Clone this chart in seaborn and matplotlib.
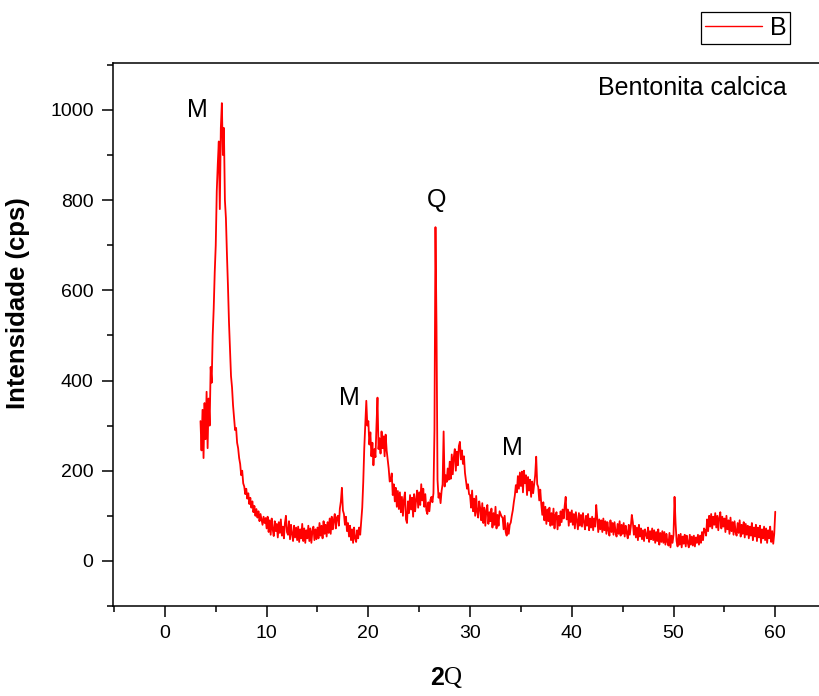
import numpy as np
import pandas as pd
import matplotlib
matplotlib.use("Agg")
import matplotlib.pyplot as plt
from matplotlib.ticker import MultipleLocator
import seaborn as sns

seg_starts = [3.5, 10.0, 20.0, 30.0, 40.0, 50.0]

i_a = [310, 245, 335, 228, 350,
       270, 375, 250, 360, 300, 430, 395, 500, 560, 640,
       700, 820, 880, 930, 780, 960, 1015, 900, 960, 800,
       760, 680, 610, 530, 470, 410, 385, 345, 318, 290,
       295, 262, 250, 228, 215, 190, 200, 172, 165, 148,
       160, 138, 150, 126, 140, 118, 132, 108, 122, 100,
       115, 96, 110, 88, 104, 92, 80, 98, 84, 95]
i_b = [72, 98, 64, 90, 58, 94, 70, 55, 88, 66,
       82, 52, 86, 62, 92, 56, 76, 50, 84, 100,
       64, 58, 88, 48, 80, 60, 44, 78, 52, 74,
       46, 76, 42, 70, 50, 82, 44, 72, 40, 68,
       50, 78, 44, 72, 40, 66, 76, 46, 70, 48,
       74, 50, 84, 56, 78, 50, 88, 60, 80, 54,
       86, 62, 94, 60, 98, 70, 90, 104, 72, 96,
       100, 78, 116, 132, 162, 112, 104, 80, 98, 66,
       84, 54, 78, 46, 70, 40, 74, 50, 42, 68,
       50, 74, 58, 88, 118, 175, 250, 305, 355, 300]
i_c = [310, 258, 285, 232, 262, 212, 248, 230, 300, 362,
       248, 272, 238, 287, 250, 276, 232, 280, 245, 224,
       205, 176, 178, 194, 146, 170, 132, 162, 120, 155,
       115, 152, 108, 142, 100, 136, 152, 92, 84, 132,
       106, 146, 114, 140, 98, 148, 110, 136, 156, 118,
       152, 124, 170, 134, 160, 120, 148, 112, 104, 130,
       110, 135, 142, 130, 150, 290, 740, 520, 180, 140,
       150, 128, 155, 170, 287, 165, 190, 175, 205, 180,
       220, 182, 236, 192, 230, 248, 200, 242, 212, 255,
       264, 225, 245, 215, 232, 195, 178, 160, 170, 148]
i_d = [146, 118, 156, 110, 138, 100, 144, 108, 96, 132,
       116, 90, 128, 84, 118, 78, 112, 124, 82, 108,
       88, 116, 74, 106, 80, 120, 72, 102, 78, 110,
       104, 98, 96, 70, 100, 64, 56, 84, 60, 80,
       85, 100, 112, 130, 145, 168, 152, 188, 160, 196,
       166, 198, 152, 200, 172, 190, 146, 186, 156, 180,
       142, 176, 150, 170, 190, 231, 170, 164, 134, 158,
       126, 102, 130, 90, 120, 82, 114, 88, 118, 78,
       106, 80, 116, 72, 102, 108, 70, 100, 78, 110,
       86, 114, 94, 122, 142, 92, 114, 78, 108, 86]
i_e = [112, 80, 104, 72, 108, 88, 70, 106, 78, 102,
       76, 106, 86, 70, 100, 78, 104, 68, 94, 74,
       98, 68, 94, 76, 124, 96, 64, 92, 70, 90,
       64, 94, 68, 88, 60, 86, 68, 56, 90, 64,
       84, 58, 86, 64, 54, 82, 60, 88, 56, 80,
       60, 84, 54, 78, 62, 50, 80, 58, 76, 102,
       86, 58, 78, 52, 74, 46, 80, 54, 72, 48,
       68, 44, 70, 58, 50, 74, 42, 66, 48, 72,
       46, 68, 40, 64, 44, 70, 36, 62, 42, 66,
       40, 64, 36, 60, 42, 34, 62, 30, 56, 40]
i_f = [58, 142, 84, 44, 32, 58, 36, 60, 30, 54,
       38, 58, 32, 56, 40, 30, 58, 36, 54, 34,
       56, 32, 52, 40, 58, 36, 56, 40, 64, 46,
       72, 68, 56, 92, 66, 100, 76, 104, 72, 98,
       80, 106, 74, 100, 68, 96, 108, 72, 98, 76,
       94, 64, 100, 70, 90, 60, 96, 66, 86, 58,
       88, 64, 56, 84, 62, 90, 54, 80, 60, 86,
       52, 82, 58, 78, 50, 76, 56, 84, 46, 74,
       54, 80, 44, 74, 52, 78, 40, 70, 50, 76,
       46, 72, 40, 68, 50, 76, 42, 66, 38, 60,
       109]

segments = [i_a, i_b, i_c, i_d, i_e, i_f]

peak_labels = ["M", "Q", "M", "M"]
peak_x = [3.2, 26.75, 18.1, 34.2]
peak_y = [1000, 800, 361, 250]

sample_name = "Bentonita calcica"
series_name = "B"
xticks = [0, 10, 20, 30, 40, 50, 60]
yticks = [0, 200, 400, 600, 800, 1000]

# ---- build table ----
xs, ys = [], []
for s0, seg in zip(seg_starts, segments):
    xs.append(np.round(s0 + 0.1 * np.arange(len(seg)), 2))
    ys.append(np.asarray(seg, dtype=float))
df = pd.DataFrame({"two_theta": np.concatenate(xs), "intensity": np.concatenate(ys)})

sns.set_style("ticks")
plt.rcParams["font.family"] = ["Liberation Sans", "DejaVu Sans"]
plt.rcParams["text.color"] = "black"
plt.rcParams["axes.labelcolor"] = "black"
plt.rcParams["xtick.color"] = "black"
plt.rcParams["ytick.color"] = "black"

fig = plt.figure(figsize=(8.19, 6.96), dpi=100)
ax = fig.add_axes([113 / 819, 90 / 696, 706 / 819, 543 / 696])

sns.lineplot(data=df, x="two_theta", y="intensity", ax=ax, color="#ff0000",
             linewidth=1.3, estimator=None, sort=False, label=series_name)

ax.set_xlim(-5.1, 64.3)
ax.set_ylim(-100, 1104)
ax.set_xticks(xticks)
ax.set_yticks(yticks)
ax.xaxis.set_minor_locator(MultipleLocator(5))
ax.yaxis.set_minor_locator(MultipleLocator(100))

for side in ["left", "bottom", "top"]:
    ax.spines[side].set_linewidth(1.1)
    ax.spines[side].set_color("black")
ax.spines["right"].set_visible(False)

ax.tick_params(axis="both", which="major", direction="out", length=8, width=1.1,
               labelsize=14, colors="black", pad=6)
ax.tick_params(axis="both", which="minor", direction="out", length=4.5, width=1.1,
               colors="black")
ax.tick_params(top=False, right=False, which="both")
for lbl in ax.get_xticklabels():
    lbl.set_fontfamily(["Liberation Sans Narrow", "Liberation Sans"])

ax.set_xlabel("")
ax.set_ylabel("Intensidade (cps)", fontsize=18.5, fontweight="bold", color="black")
ax.yaxis.set_label_coords(-0.118, 0.558)

fig.text(444 / 819, 1 - 678 / 696, "2", fontsize=18, fontweight="bold",
         ha="right", va="center", color="black")
fig.text(444 / 819, 1 - 678 / 696, "Q", fontsize=18, family=["Liberation Serif", "DejaVu Serif"],
         ha="left", va="center", color="black")

for t, px, py in zip(peak_labels, peak_x, peak_y):
    ax.text(px, py, t, fontsize=18, ha="center", va="center", color="black")
ax.text(51.9, 1049, sample_name, fontsize=18, ha="center", va="center", color="black")

leg = ax.legend(loc="upper right", bbox_to_anchor=(790 / 819, 1 - 12 / 696),
                bbox_transform=fig.transFigure, frameon=True, fancybox=False,
                edgecolor="black", framealpha=1, fontsize=18, handlelength=2.3,
                borderpad=0.15, handletextpad=0.3, borderaxespad=0)
leg.get_frame().set_linewidth(0.9)
for h in leg.get_lines():
    h.set_linewidth(1.0)
for txt in leg.get_texts():
    txt.set_color("black")

fig.savefig("out.png", dpi=100)
